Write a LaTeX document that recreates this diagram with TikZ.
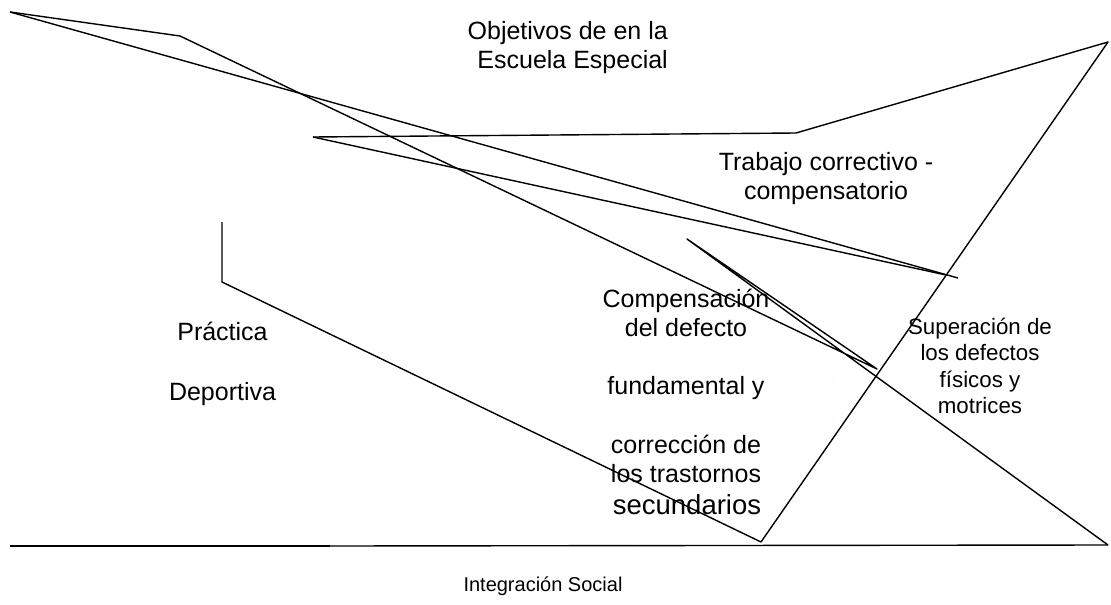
\documentclass[tikz,border=0pt]{standalone}
\usepackage{fontspec}
\setmainfont{Liberation Sans}
\begin{document}
\begin{tikzpicture}[x=1pt,y=-1pt,
  edge/.style={draw=black, line width=1.4pt, line join=round},
  faint/.style={draw=black!4, line width=0.6pt, dotted},
  lbl/.style={font=\fontsize{25}{30}\selectfont, inner sep=0pt, anchor=base},
  sml/.style={font=\fontsize{22.3}{27}\selectfont, inner sep=0pt, anchor=base},
  big/.style={font=\fontsize{27.5}{32}\selectfont, inner sep=0pt, anchor=base},
  tiny/.style={font=\fontsize{20}{24}\selectfont, inner sep=0pt, anchor=base}]
\useasboundingbox (0,0) rectangle (1111,605);
\fill[white] (0,0) rectangle (1111,605);

% faint ellipses
\draw[faint] (222,368) ellipse [x radius=122, y radius=88];
\draw[faint] (686,400) ellipse [x radius=148, y radius=158];
\draw[faint] (990,372) ellipse [x radius=108, y radius=134];

% coordinates
\coordinate (p1) at (10,12);
\coordinate (p2) at (180,36);
\coordinate (p3) at (877,369);
\coordinate (p4) at (687,239);
\coordinate (p5) at (1108,545);
\coordinate (q1) at (958,278);
\coordinate (r1) at (313,137);
\coordinate (r2) at (946,275);
\coordinate (s1) at (796,133);
\coordinate (s2) at (1108,42);
\coordinate (s3) at (761,542);
\coordinate (s4) at (222,282);
\coordinate (s5) at (222,222);
\coordinate (b1) at (10,546);
\coordinate (b2) at (330,546);

% connectors
\draw[edge] (p1) -- (p2) -- (p3) -- (p4) -- (p5);
\draw[edge] (p1) -- (q1);
\draw[edge] (r1) -- (r2);
\draw[edge] (r1) -- (s1) -- (s2) -- (s3) -- (s4) -- (s5);
\draw[edge, line width=1.8pt] (b1) -- (b2);
\draw[edge] (b2) -- (p5);

% texts
\node[lbl, anchor=base east] (obj1) at (668,39) {Objetivos de en la};
\node[lbl, anchor=base east] (obj2) at (668,68) {Escuela Especial};
\node[lbl] (trab1) at (826,170) {Trabajo correctivo -};
\node[lbl] (trab2) at (826,199) {compensatorio};
\node[lbl] (prac1) at (222.5,340) {Práctica};
\node[lbl] (prac2) at (222.5,400) {Deportiva};
\node[lbl] (comp1) at (686,307) {Compensación};
\node[lbl] (comp2) at (686,336) {del defecto};
\node[lbl] (comp3) at (686,394) {fundamental y};
\node[lbl] (comp4) at (686,453) {corrección de};
\node[lbl] (comp5) at (686,482) {los trastornos};
\node[big] (comp6) at (687,514) {secundarios};
\node[sml] (sup1) at (980,334) {Superación de};
\node[sml] (sup2) at (980,360.5) {los defectos};
\node[sml] (sup3) at (980,387) {físicos y};
\node[sml] (sup4) at (980,413.5) {motrices};
\node[tiny] (integ) at (543,591) {Integración Social};
\end{tikzpicture}
\end{document}
